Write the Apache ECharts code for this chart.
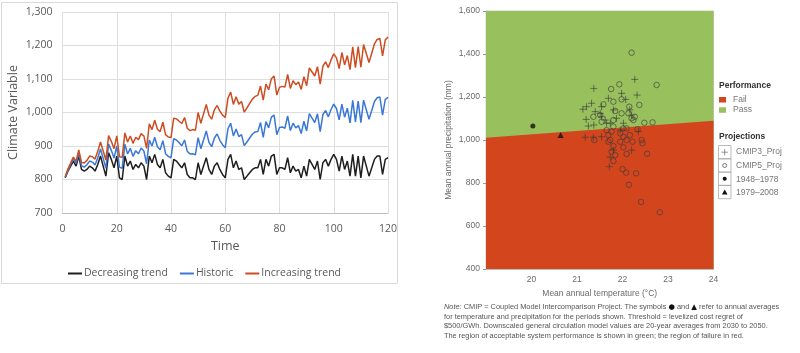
<!DOCTYPE html>
<html>
<head>
<meta charset="utf-8">
<script src="https://cdn.jsdelivr.net/npm/echarts@6/dist/echarts.min.js"></script>
<style>
  html, body { margin: 0; padding: 0; background: #fff; }
  #main { width: 800px; height: 353px; }
</style>
</head>
<body>
<div id="main"></div>
<script>
// left chart: climate variable over time
var seriesNames = ['Decreasing trend', 'Historic', 'Increasing trend'];
var decreasing = [805,825,840,855,840,870,830,825,830,840,835,825,845,870,840,810,880,860,835,870,
  805,800,870,840,855,830,845,835,850,840,800,870,850,875,845,835,860,820,810,805,
  860,855,845,835,850,815,805,805,800,850,815,840,865,830,815,840,850,830,815,805,
  860,875,835,855,830,835,800,810,820,830,835,835,860,815,860,840,870,875,815,835,
  835,830,865,820,840,825,830,805,840,810,860,845,830,855,800,850,860,840,860,875,
  860,825,870,830,855,810,875,810,870,805,870,840,810,835,860,870,870,815,860,865];
var historic = [807,828,845,861,848,879,841,837,844,855,852,843,865,891,863,834,906,887,864,900,
  837,833,905,876,893,869,886,877,894,885,847,918,900,926,898,889,916,877,869,865,
  922,918,910,901,918,884,876,877,874,925,892,918,945,911,898,924,936,917,904,895,
  952,968,930,951,928,934,901,912,924,935,942,943,970,926,973,954,986,992,934,955,
  957,953,990,946,968,954,961,937,974,945,997,983,970,996,943,994,1006,987,1009,1025,
  1012,978,1025,986,1013,969,1036,972,1034,970,1037,1008,980,1006,1033,1044,1046,992,1039,1045];
var increasing = [808,831,849,867,855,888,851,849,857,870,868,861,884,912,885,858,931,914,892,930,
  868,866,939,912,930,908,926,919,937,930,893,966,949,977,950,943,971,934,927,925,
  983,981,974,967,985,953,946,949,947,1000,968,996,1024,992,980,1008,1021,1004,992,985,
  1043,1061,1024,1047,1025,1033,1001,1014,1027,1040,1048,1051,1079,1037,1085,1068,1101,1109,1052,1075,
  1078,1076,1114,1072,1095,1083,1091,1069,1107,1080,1133,1121,1109,1137,1085,1138,1151,1134,1157,1175,
  1163,1131,1179,1142,1170,1128,1196,1134,1197,1135,1203,1176,1149,1177,1205,1218,1221,1169,1217,1225];

// right chart: temperature (°C) vs precipitation (mm)
var threshold = [[19, 1010], [24, 1090]];
var passTop = [[19, 1600], [24, 1600]];
var cmip3 = [[21.37,1240],[22.27,1282],[22.32,1209],[21.98,1217],[21.69,1194],[22.07,1189],[21.13,1143],
  [21.21,1155],[21.32,1171],[21.40,1132],[21.51,1124],[21.20,1096],[21.25,1065],[21.37,1070],[21.54,1108],
  [21.65,1078],[21.80,1140],[21.87,1101],[22.02,1078],[22.16,1140],[22.20,1116],[21.18,1013],[21.36,1013],
  [21.54,1015],[21.80,953],[21.73,920],[21.71,876],[22.20,953],[21.95,1046],[22.35,1039],[21.54,1155],
  [21.62,1093],[21.73,1078]];
var cmip5 = [[21.75,1237],[21.93,1259],[22.75,1256],[22.20,1406],[21.58,1166],[21.80,1178],[21.98,1189],
  [22.15,1155],[22.37,1163],[21.84,1135],[21.98,1124],[22.13,1124],[21.51,1116],[21.54,1085],[21.80,1093],
  [22.20,1101],[22.27,1108],[22.24,1093],[22.48,1080],[22.66,1082],[21.80,1062],[21.65,1046],[21.76,1039],
  [22.02,1054],[22.09,1054],[22.33,1050],[21.69,1023],[21.95,1031],[22.02,1015],[22.16,1023],[21.38,1000],
  [21.69,992],[21.95,992],[22.09,1000],[22.22,992],[22.42,1000],[22.44,985],[21.80,972],[22.02,966],
  [22.09,935],[22.54,936],[21.84,930],[21.80,902],[22.00,864],[22.08,848],[22.30,845],[22.14,792],
  [22.41,712],[22.82,664],[21.36,1108],[21.73,1000],[21.76,946]];
var obs1948 = [[20.03, 1065]];
var obs1979 = [[20.64, 1023]];

var noteLines = [
  '{i|Note:} CMIP = Coupled Model Intercomparison Project. The symbols {b|●} and {b|▲} refer to annual averages',
  'for temperature and precipitation for the periods shown. Threshold = levelized cost regret of',
  '$500/GWh. Downscaled general circulation model values are 20-year averages from 2030 to 2050.',
  'The region of acceptable system performance is shown in green; the region of failure in red.'
];

var lineColors = ['#1e1e1e', '#3a78d6', '#cc4d22'];
var passColor = '#98c05d';
var failColor = '#d3451d';
var plusPath = 'path://M5,0L5,10M0,5L10,5';

function withTime(arr) {
  return arr.map(function (v, i) { return [i + 1, v]; });
}
function thousands(v) {
  return v.toLocaleString('en-US');
}

var chart = echarts.init(document.getElementById('main'));

var sansR = 'Liberation Sans';
var grey = '#6a6a6a';

var option = {
  animation: false,
  textStyle: { fontFamily: 'Open Sans' },
  grid: [
    { left: 62.5, right: 412, top: 12, bottom: 140 },
    { left: 486, right: 86.5, top: 11, bottom: 84, show: true, borderColor: '#cfcfcf', borderWidth: 1 }
  ],
  legend: {
    data: seriesNames,
    left: 63,
    top: 263,
    icon: 'rect',
    itemWidth: 14,
    itemHeight: 2,
    itemGap: 12,
    textStyle: { color: '#595959', fontSize: 10.5, fontFamily: 'Open Sans', padding: [0, 0, 0, -3] }
  },
  xAxis: [
    {
      gridIndex: 0, type: 'value', min: 0, max: 120, interval: 20,
      name: 'Time', nameLocation: 'middle', nameGap: 26,
      nameTextStyle: { color: '#595959', fontSize: 12.5, fontFamily: 'Open Sans' },
      axisLine: { lineStyle: { color: '#bfbfbf' } },
      axisTick: { show: false },
      axisLabel: { color: '#595959', fontSize: 10.5, margin: 11 },
      splitLine: { lineStyle: { color: '#dedede' } }
    },
    {
      gridIndex: 1, type: 'value', min: 19, max: 24, interval: 1,
      name: 'Mean annual temperature (°C)', nameLocation: 'middle', nameGap: 19,
      nameTextStyle: { color: grey, fontSize: 8.5, fontFamily: sansR },
      axisLine: { lineStyle: { color: '#bbbbbb' } },
      axisTick: { show: false },
      axisLabel: { color: grey, fontSize: 8.5, fontFamily: sansR, margin: 6, showMinLabel: false },
      splitLine: { show: false }
    }
  ],
  yAxis: [
    {
      gridIndex: 0, type: 'value', min: 700, max: 1300, interval: 100,
      name: 'Climate Variable', nameLocation: 'middle', nameGap: 43,
      nameTextStyle: { color: '#595959', fontSize: 12.5, fontFamily: 'Open Sans' },
      axisLine: { show: false },
      axisTick: { show: false },
      axisLabel: { color: '#595959', fontSize: 10.5, margin: 10, formatter: thousands },
      splitLine: { lineStyle: { color: '#dedede' } }
    },
    {
      gridIndex: 1, type: 'value', min: 400, max: 1600, interval: 200,
      name: 'Mean annual precipitation (mm)', nameLocation: 'middle', nameGap: 33,
      nameTextStyle: { color: grey, fontSize: 8.5, fontFamily: sansR },
      axisLine: { show: true, lineStyle: { color: '#bbbbbb' } },
      axisTick: { show: true, length: 3, lineStyle: { color: '#999' } },
      axisLabel: { color: grey, fontSize: 8.5, fontFamily: sansR, margin: 6, formatter: thousands },
      splitLine: { show: false }
    }
  ],
  series: [
    { name: seriesNames[0], type: 'line', xAxisIndex: 0, yAxisIndex: 0, data: withTime(decreasing),
      symbol: 'none', color: lineColors[0], lineStyle: { width: 1.5 } },
    { name: seriesNames[1], type: 'line', xAxisIndex: 0, yAxisIndex: 0, data: withTime(historic),
      symbol: 'none', color: lineColors[1], lineStyle: { width: 1.5 } },
    { name: seriesNames[2], type: 'line', xAxisIndex: 0, yAxisIndex: 0, data: withTime(increasing),
      symbol: 'none', color: lineColors[2], lineStyle: { width: 1.5 } },

    { name: 'Pass', type: 'line', xAxisIndex: 1, yAxisIndex: 1, data: passTop, symbol: 'none', silent: true,
      lineStyle: { width: 0 }, areaStyle: { color: passColor, opacity: 1, origin: 'start' }, z: 1 },
    { name: 'Fail', type: 'line', xAxisIndex: 1, yAxisIndex: 1, data: threshold, symbol: 'none', silent: true,
      lineStyle: { width: 0 }, areaStyle: { color: failColor, opacity: 1, origin: 'start' }, z: 2 },

    { name: 'CMIP3_Proj', type: 'scatter', xAxisIndex: 1, yAxisIndex: 1, data: cmip3, z: 5,
      symbol: plusPath, symbolSize: 7,
      itemStyle: { color: 'transparent', borderColor: '#3a3a3a', borderWidth: 0.8 } },
    { name: 'CMIP5_Proj', type: 'scatter', xAxisIndex: 1, yAxisIndex: 1, data: cmip5, z: 5,
      symbol: 'circle', symbolSize: 5.5,
      itemStyle: { color: 'transparent', borderColor: '#3a3a3a', borderWidth: 0.8 } },
    { name: '1948–1978', type: 'scatter', xAxisIndex: 1, yAxisIndex: 1, data: obs1948, z: 6,
      symbol: 'circle', symbolSize: 5, itemStyle: { color: '#111' } },
    { name: '1979–2008', type: 'scatter', xAxisIndex: 1, yAxisIndex: 1, data: obs1979, z: 6,
      symbol: 'triangle', symbolSize: 6, itemStyle: { color: '#111' } }
  ],
  graphic: [
    // left panel frame
    { type: 'rect', shape: { x: 1.5, y: 2.5, width: 396, height: 281 }, silent: true,
      style: { fill: 'none', stroke: '#d9d9d9', lineWidth: 1 } },

    // right legend
    { type: 'text', x: 719, y: 86, style: { text: 'Performance', fill: '#333', font: 'bold 8.5px "Liberation Sans"', verticalAlign: 'middle' } },
    { type: 'rect', shape: { x: 719, y: 97, width: 7, height: 5.5 }, style: { fill: failColor } },
    { type: 'text', x: 733, y: 100, style: { text: 'Fail', fill: '#777', font: '8.5px "Liberation Sans"', verticalAlign: 'middle' } },
    { type: 'rect', shape: { x: 719, y: 107.3, width: 7, height: 5.5 }, style: { fill: passColor } },
    { type: 'text', x: 733, y: 110, style: { text: 'Pass', fill: '#777', font: '8.5px "Liberation Sans"', verticalAlign: 'middle' } },
    { type: 'text', x: 719, y: 137, style: { text: 'Projections', fill: '#333', font: 'bold 8.5px "Liberation Sans"', verticalAlign: 'middle' } },

    { type: 'rect', shape: { x: 718.5, y: 145.5, width: 12.5, height: 13.3 }, style: { fill: 'none', stroke: '#aaa', lineWidth: 0.8 } },
    { type: 'rect', shape: { x: 718.5, y: 158.8, width: 12.5, height: 13.3 }, style: { fill: 'none', stroke: '#aaa', lineWidth: 0.8 } },
    { type: 'rect', shape: { x: 718.5, y: 172.1, width: 12.5, height: 13.3 }, style: { fill: 'none', stroke: '#aaa', lineWidth: 0.8 } },
    { type: 'rect', shape: { x: 718.5, y: 185.4, width: 12.5, height: 13.3 }, style: { fill: 'none', stroke: '#aaa', lineWidth: 0.8 } },
    { type: 'polyline', shape: { points: [[721.5, 152.2], [727.9, 152.2]] }, style: { stroke: '#666', lineWidth: 0.7 } },
    { type: 'polyline', shape: { points: [[724.7, 149], [724.7, 155.4]] }, style: { stroke: '#666', lineWidth: 0.7 } },
    { type: 'circle', shape: { cx: 724.7, cy: 165.5, r: 2 }, style: { fill: 'none', stroke: '#555', lineWidth: 0.8 } },
    { type: 'circle', shape: { cx: 724.7, cy: 178.8, r: 2 }, style: { fill: '#111' } },
    { type: 'polygon', shape: { points: [[724.7, 189.5], [727.5, 194.5], [721.9, 194.5]] }, style: { fill: '#111' } },
    { type: 'text', x: 736, y: 152, style: { text: 'CMIP3_Proj', fill: '#777', font: '8.5px "Liberation Sans"', verticalAlign: 'middle' } },
    { type: 'text', x: 736, y: 166, style: { text: 'CMIP5_Proj', fill: '#777', font: '8.5px "Liberation Sans"', verticalAlign: 'middle' } },
    { type: 'text', x: 736, y: 179.3, style: { text: '1948–1978', fill: '#777', font: '8.5px "Liberation Sans"', verticalAlign: 'middle' } },
    { type: 'text', x: 736, y: 192.5, style: { text: '1979–2008', fill: '#777', font: '8.5px "Liberation Sans"', verticalAlign: 'middle' } },

    // note under the right chart
    { type: 'text', x: 444, y: 302, style: {
        text: noteLines.join('\n'), fill: '#555', font: '7.4px "Liberation Sans"', lineHeight: 9.7,
        rich: {
          i: { fontStyle: 'italic', fontSize: 7.4, fontFamily: 'Liberation Sans', fill: '#555' },
          b: { fontSize: 7.4, fontFamily: 'DejaVu Sans', fill: '#111' }
        }
      } }
  ]
};

chart.setOption(option);
</script>
</body>
</html>
